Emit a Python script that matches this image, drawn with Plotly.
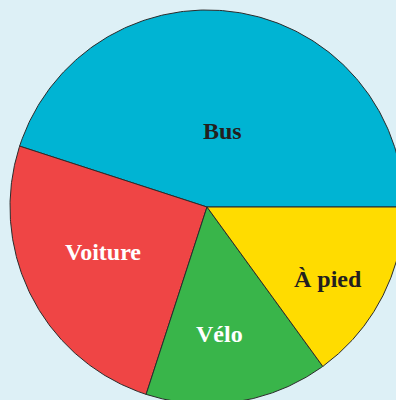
import numpy as np
import plotly.graph_objects as go

# Mode de transport pour aller à l'école (parts en %)
categories = ["Bus", "Voiture", "Vélo", "À pied"]
shares = [45, 25, 15, 15]

colors = ["#00b4d3", "#ef4545", "#39b54a", "#ffdc00"]
text_colors = ["#231f20", "#ffffff", "#ffffff", "#231f20"]
# label anchor points in unit-circle coordinates
label_pos = [(0.081, 0.386), (-0.530, -0.228), (0.061, -0.645), (0.614, -0.365)]

fig = go.Figure()

total = float(sum(shares))
start = 0.0
for name, val, col in zip(categories, shares, colors):
    sweep = 360.0 * val / total
    ang = np.radians(np.linspace(start, start + sweep, 200))
    xs = np.concatenate([[0.0], np.cos(ang), [0.0]])
    ys = np.concatenate([[0.0], np.sin(ang), [0.0]])
    fig.add_trace(go.Scatter(
        x=xs, y=ys, mode="lines", fill="toself", fillcolor=col,
        line=dict(color="#2b2b2b", width=1), name=name,
        hoverinfo="name", showlegend=False,
    ))
    start += sweep

for name, (lx, ly), tc in zip(categories, label_pos, text_colors):
    fig.add_annotation(
        x=lx, y=ly, text="<b>%s</b>" % name, showarrow=False,
        font=dict(family="Liberation Serif", size=24, color=tc),
        xanchor="center", yanchor="middle",
    )

R_PX = 197.0
W, H = 396, 400
CX, CY = 207.0, 207.0
fig.update_layout(
    width=W, height=H,
    margin=dict(l=0, r=0, t=0, b=0),
    paper_bgcolor="#ddf0f6", plot_bgcolor="#ddf0f6",
    xaxis=dict(range=[-CX / R_PX, (W - CX) / R_PX], visible=False, fixedrange=True),
    yaxis=dict(range=[-(H - CY) / R_PX, CY / R_PX], visible=False, fixedrange=True),
)

fig.write_html("out.html")
